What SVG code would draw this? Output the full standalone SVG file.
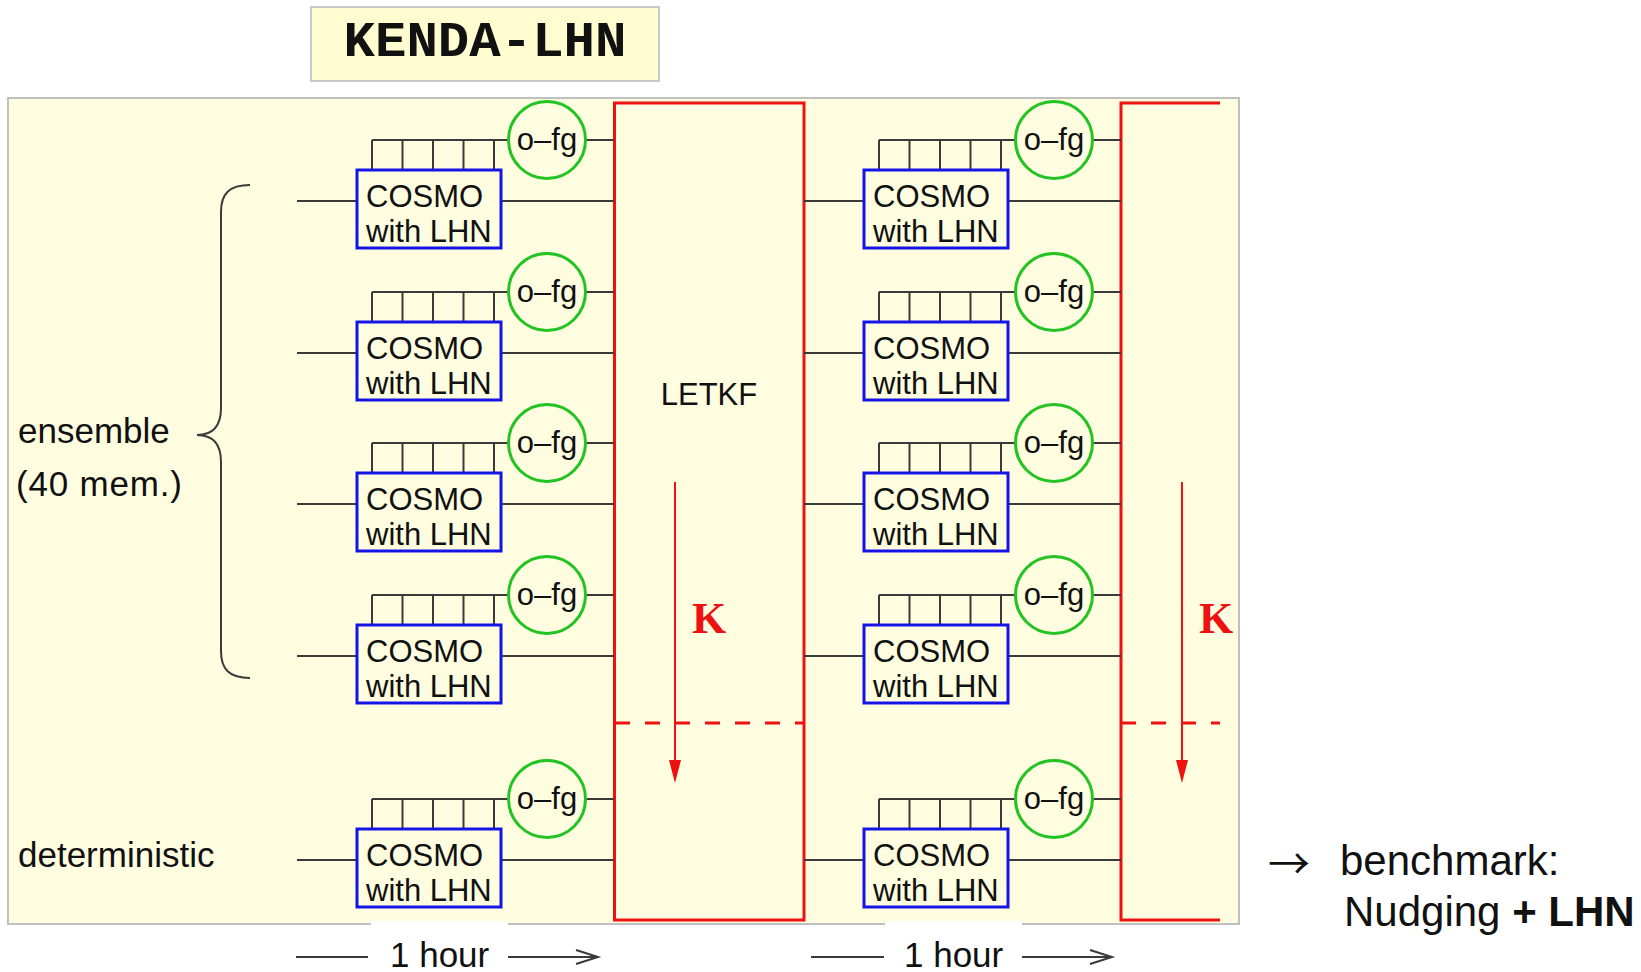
<svg xmlns="http://www.w3.org/2000/svg" width="1641" height="972" viewBox="0 0 1641 972">
<defs>
<style>
.t{font-family:"Liberation Sans",Arial,sans-serif;fill:#111}
.cosmo{fill:#fffde0;stroke:#1414e6;stroke-width:3}
.ofg{fill:#fffde0;stroke:#22c322;stroke-width:3}
.ln{stroke:#3a3a3a;stroke-width:2;fill:none}
.red{stroke:#ee1111;stroke-width:3;fill:none}
.dash{stroke:#ee1111;stroke-width:3;stroke-dasharray:15 15;fill:none}
.ct{font-family:"Liberation Sans",Arial,sans-serif;font-size:31px;fill:#111}
.ft{font-family:"Liberation Sans",Arial,sans-serif;font-size:31px;fill:#111;text-anchor:middle}
.lab{font-family:"Liberation Sans",Arial,sans-serif;font-size:35px;fill:#111}
.k{font-family:"Liberation Serif","Times New Roman",serif;font-weight:bold;font-size:44px;fill:#ee1111}
.head{fill:#ee1111}
</style>
</defs>
<rect x="0" y="0" width="1641" height="972" fill="#ffffff"/>

<g id="title">
<rect x="311" y="7" width="348" height="74" fill="#fffdd0" stroke="#c8c8c8" stroke-width="2"/>
<text x="485" y="56" font-family="'Liberation Mono','Courier New',monospace" font-weight="bold" font-size="50" text-anchor="middle" textLength="283" lengthAdjust="spacingAndGlyphs" fill="#111">KENDA-LHN</text>
</g>

<g id="panel">
<rect x="8" y="98" width="1231" height="826" fill="#fffde0" stroke="#c0c0c0" stroke-width="2"/>
<rect x="371" y="921" width="137" height="7" fill="#ffffff"/>
<rect x="885" y="921" width="137" height="7" fill="#ffffff"/>
</g>

<g id="letkf1">
<rect x="614.5" y="103" width="189.5" height="817" class="red"/>
<text x="709" y="405" class="t" font-size="31" text-anchor="middle">LETKF</text>
<line x1="615" y1="723" x2="803" y2="723" class="dash"/>
<line x1="675" y1="482" x2="675" y2="762" stroke="#ee1111" stroke-width="2"/>
<polygon class="head" points="669,760 681,760 675,783"/>
<text x="692" y="633" class="k">K</text>
</g>

<g id="letkf2">
<path d="M1220,103 H1121 V920 H1220" class="red"/>
<line x1="1121" y1="723" x2="1220" y2="723" class="dash"/>
<line x1="1182" y1="482" x2="1182" y2="762" stroke="#ee1111" stroke-width="2"/>
<polygon class="head" points="1176,760 1188,760 1182,783"/>
<text x="1199" y="633" class="k">K</text>
</g>

<g id="connectors">
<path class="ln" d="M297,201 H357 M501,201 H614 M372,140 H508 M585,140 H614 M372,140 V170 M402.5,140 V170 M433,140 V170 M463.5,140 V170 M494,140 V170"/>
<path class="ln" d="M297,353 H357 M501,353 H614 M372,292 H508 M585,292 H614 M372,292 V322 M402.5,292 V322 M433,292 V322 M463.5,292 V322 M494,292 V322"/>
<path class="ln" d="M297,504 H357 M501,504 H614 M372,443 H508 M585,443 H614 M372,443 V473 M402.5,443 V473 M433,443 V473 M463.5,443 V473 M494,443 V473"/>
<path class="ln" d="M297,656 H357 M501,656 H614 M372,595 H508 M585,595 H614 M372,595 V625 M402.5,595 V625 M433,595 V625 M463.5,595 V625 M494,595 V625"/>
<path class="ln" d="M297,860 H357 M501,860 H614 M372,799 H508 M585,799 H614 M372,799 V829 M402.5,799 V829 M433,799 V829 M463.5,799 V829 M494,799 V829"/>
<path class="ln" d="M804,201 H864 M1008,201 H1121 M879,140 H1015 M1092,140 H1121 M879,140 V170 M909.5,140 V170 M940,140 V170 M970.5,140 V170 M1001,140 V170"/>
<path class="ln" d="M804,353 H864 M1008,353 H1121 M879,292 H1015 M1092,292 H1121 M879,292 V322 M909.5,292 V322 M940,292 V322 M970.5,292 V322 M1001,292 V322"/>
<path class="ln" d="M804,504 H864 M1008,504 H1121 M879,443 H1015 M1092,443 H1121 M879,443 V473 M909.5,443 V473 M940,443 V473 M970.5,443 V473 M1001,443 V473"/>
<path class="ln" d="M804,656 H864 M1008,656 H1121 M879,595 H1015 M1092,595 H1121 M879,595 V625 M909.5,595 V625 M940,595 V625 M970.5,595 V625 M1001,595 V625"/>
<path class="ln" d="M804,860 H864 M1008,860 H1121 M879,799 H1015 M1092,799 H1121 M879,799 V829 M909.5,799 V829 M940,799 V829 M970.5,799 V829 M1001,799 V829"/>
</g>

<g id="cosmo-1-1"><rect x="357" y="170" width="144" height="78" class="cosmo"/><text class="ct" x="366" y="207">COSMO</text><text class="ct" x="366" y="241.5">with LHN</text></g>
<g id="cosmo-1-2"><rect x="357" y="322" width="144" height="78" class="cosmo"/><text class="ct" x="366" y="359">COSMO</text><text class="ct" x="366" y="393.5">with LHN</text></g>
<g id="cosmo-1-3"><rect x="357" y="473" width="144" height="78" class="cosmo"/><text class="ct" x="366" y="510">COSMO</text><text class="ct" x="366" y="544.5">with LHN</text></g>
<g id="cosmo-1-4"><rect x="357" y="625" width="144" height="78" class="cosmo"/><text class="ct" x="366" y="662">COSMO</text><text class="ct" x="366" y="696.5">with LHN</text></g>
<g id="cosmo-1-det"><rect x="357" y="829" width="144" height="78" class="cosmo"/><text class="ct" x="366" y="866">COSMO</text><text class="ct" x="366" y="900.5">with LHN</text></g>

<g id="cosmo-2-1"><rect x="864" y="170" width="144" height="78" class="cosmo"/><text class="ct" x="873" y="207">COSMO</text><text class="ct" x="873" y="241.5">with LHN</text></g>
<g id="cosmo-2-2"><rect x="864" y="322" width="144" height="78" class="cosmo"/><text class="ct" x="873" y="359">COSMO</text><text class="ct" x="873" y="393.5">with LHN</text></g>
<g id="cosmo-2-3"><rect x="864" y="473" width="144" height="78" class="cosmo"/><text class="ct" x="873" y="510">COSMO</text><text class="ct" x="873" y="544.5">with LHN</text></g>
<g id="cosmo-2-4"><rect x="864" y="625" width="144" height="78" class="cosmo"/><text class="ct" x="873" y="662">COSMO</text><text class="ct" x="873" y="696.5">with LHN</text></g>
<g id="cosmo-2-det"><rect x="864" y="829" width="144" height="78" class="cosmo"/><text class="ct" x="873" y="866">COSMO</text><text class="ct" x="873" y="900.5">with LHN</text></g>

<g id="ofg-1-1"><circle cx="547" cy="140" r="38.5" class="ofg"/><text class="ft" x="547" y="150">o–fg</text></g>
<g id="ofg-1-2"><circle cx="547" cy="292" r="38.5" class="ofg"/><text class="ft" x="547" y="302">o–fg</text></g>
<g id="ofg-1-3"><circle cx="547" cy="443" r="38.5" class="ofg"/><text class="ft" x="547" y="453">o–fg</text></g>
<g id="ofg-1-4"><circle cx="547" cy="595" r="38.5" class="ofg"/><text class="ft" x="547" y="605">o–fg</text></g>
<g id="ofg-1-det"><circle cx="547" cy="799" r="38.5" class="ofg"/><text class="ft" x="547" y="809">o–fg</text></g>

<g id="ofg-2-1"><circle cx="1054" cy="140" r="38.5" class="ofg"/><text class="ft" x="1054" y="150">o–fg</text></g>
<g id="ofg-2-2"><circle cx="1054" cy="292" r="38.5" class="ofg"/><text class="ft" x="1054" y="302">o–fg</text></g>
<g id="ofg-2-3"><circle cx="1054" cy="443" r="38.5" class="ofg"/><text class="ft" x="1054" y="453">o–fg</text></g>
<g id="ofg-2-4"><circle cx="1054" cy="595" r="38.5" class="ofg"/><text class="ft" x="1054" y="605">o–fg</text></g>
<g id="ofg-2-det"><circle cx="1054" cy="799" r="38.5" class="ofg"/><text class="ft" x="1054" y="809">o–fg</text></g>

<g id="ensemble-label">
<path class="ln" d="M250,185 C229,185 221,194 221,212 L221,408 C221,426 213,435 197,435 C213,435 221,444 221,462 L221,651 C221,669 229,678 250,678"/>
<text class="lab" x="18" y="443">ensemble</text>
<text class="lab" x="16" y="496" textLength="166">(40 mem.)</text>
</g>

<g id="deterministic-label">
<text class="lab" x="18" y="867">deterministic</text>
</g>

<g id="timeline">
<path class="ln" d="M296,957 H368 M508,957 H598 M576,950 L598,957 L576,964"/>
<text class="lab" x="390" y="967">1 hour</text>
<path class="ln" d="M811,957 H884 M1022,957 H1112 M1090,950 L1112,957 L1090,964"/>
<text class="lab" x="904" y="967">1 hour</text>
</g>

<g id="benchmark">
<text x="1268" y="879" font-family="'Noto Sans CJK SC','Liberation Sans',sans-serif" font-size="42" fill="#111">→</text>
<text class="t" x="1340" y="875" font-size="42">benchmark:</text>
<text class="t" x="1344" y="926" font-size="42">Nudging <tspan font-weight="bold">+ LHN</tspan></text>
</g>
</svg>
